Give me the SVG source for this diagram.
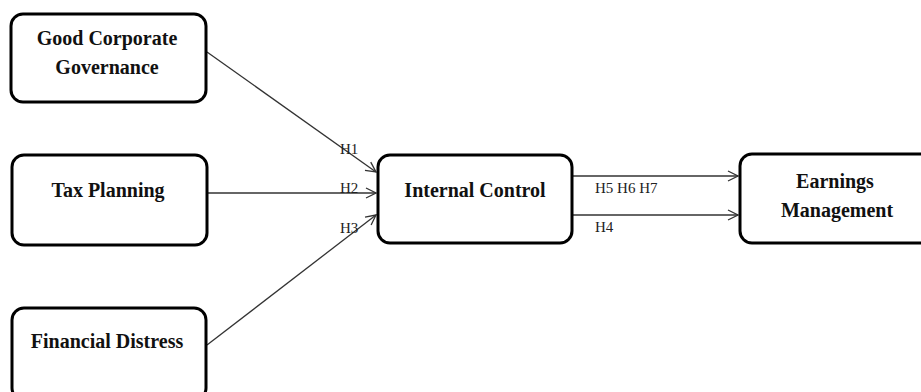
<svg xmlns="http://www.w3.org/2000/svg" width="921" height="392" viewBox="0 0 921 392">
<style>
.box{fill:#fff;stroke:#000;stroke-width:3}
.lbl{font-family:"Liberation Serif","Times New Roman",serif;font-weight:bold;font-size:20px;fill:#111;text-anchor:middle}
.h{font-family:"Liberation Serif","Times New Roman",serif;font-size:15px;fill:#222}
.edge{stroke:#333;stroke-width:1.3;fill:none;marker-end:url(#arr)}
</style>
<defs>
<marker id="arr" viewBox="0 0 12 12" refX="11" refY="6" markerWidth="12" markerHeight="12" markerUnits="userSpaceOnUse" orient="auto">
<path d="M1,1 L11,6 L1,11" fill="none" stroke="#333" stroke-width="1.3"/>
</marker>
</defs>
<rect width="921" height="392" fill="#fff"/>
<g id="connectors">
<line class="edge" x1="207" y1="52" x2="376" y2="172"/>
<line class="edge" x1="207" y1="193" x2="376" y2="193"/>
<line class="edge" x1="207" y1="345" x2="376" y2="215"/>
<line class="edge" x1="573" y1="176" x2="738" y2="176"/>
<line class="edge" x1="573" y1="215" x2="738" y2="215"/>
<text class="h" x="340" y="154">H1</text>
<text class="h" x="340" y="193">H2</text>
<text class="h" x="340" y="233">H3</text>
<text class="h" x="595" y="193">H5 H6 H7</text>
<text class="h" x="595" y="232">H4</text>
</g>
<g id="gcg">
<rect class="box" x="11" y="14" width="195" height="88" rx="12"/>
<text class="lbl" x="107" y="45">Good Corporate</text>
<text class="lbl" x="107" y="74">Governance</text>
</g>
<g id="tax">
<rect class="box" x="12" y="155" width="195" height="90" rx="12"/>
<text class="lbl" x="108" y="197">Tax Planning</text>
</g>
<g id="fin">
<rect class="box" x="12" y="308" width="194" height="92" rx="12"/>
<text class="lbl" x="107" y="348">Financial Distress</text>
</g>
<g id="ic">
<rect class="box" x="378" y="155" width="194" height="88" rx="12"/>
<text class="lbl" x="475" y="197">Internal Control</text>
</g>
<g id="em">
<rect class="box" x="740" y="154" width="194" height="89" rx="12"/>
<text class="lbl" x="835" y="188">Earnings</text>
<text class="lbl" x="837" y="217">Management</text>
</g>
</svg>
